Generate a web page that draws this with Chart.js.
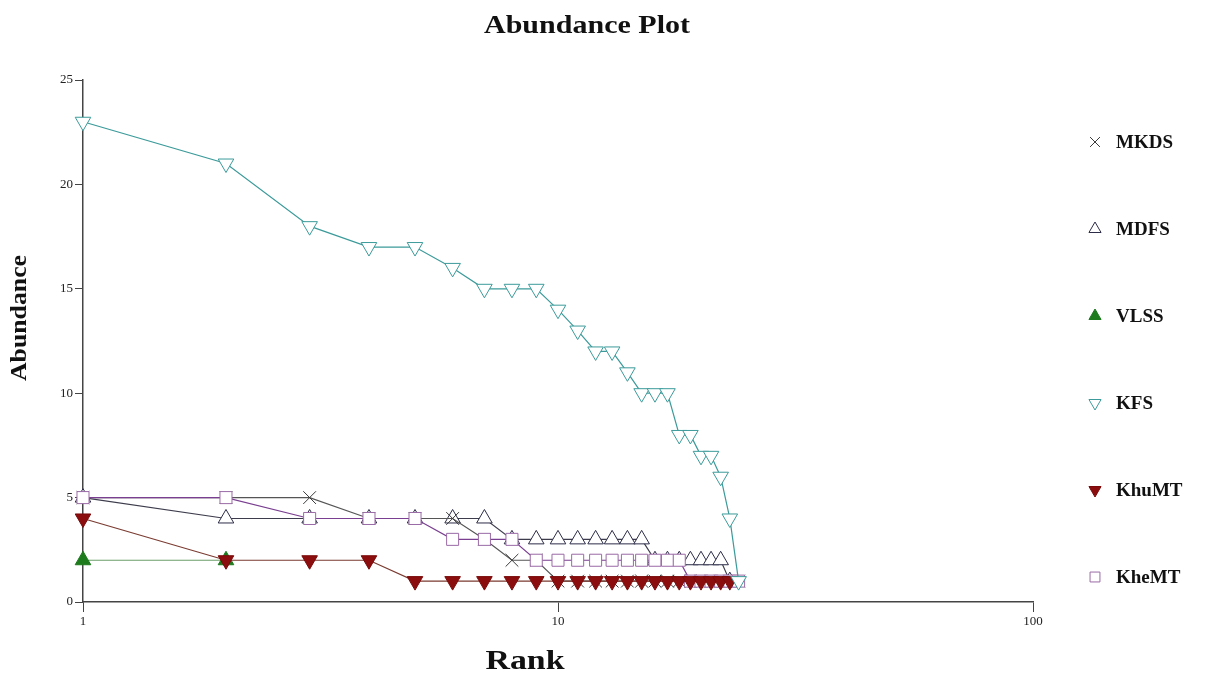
<!DOCTYPE html>
<html>
<head>
<meta charset="utf-8">
<script src="https://cdn.jsdelivr.net/npm/chart.js@4.4.1/dist/chart.umd.min.js"></script>
<style>
  html, body { margin: 0; padding: 0; background: #fff; }
  #wrap { width: 1216px; height: 679px; }
</style>
</head>
<body>
<div id="wrap"><canvas id="abundance" width="1216" height="679"></canvas></div>
<script>
// abundance by rank for each site
const mkds  = [5, 5, 5, 4, 4, 4, 3, 2, 2, 1, 1, 1, 1, 1, 1, 1, 1, 1, 1, 1, 1, 1, 1, 1];
const mdfs  = [5, 4, 4, 4, 4, 4, 4, 3, 3, 3, 3, 3, 3, 3, 3, 2, 2, 2, 2, 2, 2, 2, 1];
const vlss  = [2, 2];
const kfs   = [23, 21, 18, 17, 17, 16, 15, 15, 15, 14, 13, 12, 12, 11, 10, 10, 10, 8, 8, 7, 7, 6, 4, 1];
const khumt = [4, 2, 2, 2, 1, 1, 1, 1, 1, 1, 1, 1, 1, 1, 1, 1, 1, 1, 1, 1, 1, 1, 1];
const khemt = [5, 5, 4, 4, 4, 3, 3, 3, 2, 2, 2, 2, 2, 2, 2, 2, 2, 2, 1, 1, 1, 1, 1, 1];

const xTicks = [1, 10, 100];
const yTicks = [0, 5, 10, 15, 20, 25];

const toPoints = (vals) => vals.map((v, i) => ({ x: i + 1, y: v }));

const series = [
  { label: 'MKDS',  data: mkds,  line: '#555555', edge: '#3a3a3a', fill: 'rgba(0,0,0,0)', style: 'crossRot', rot: 0,   r: 9, order: 3 },
  { label: 'MDFS',  data: mdfs,  line: '#3c3c4c', edge: '#2c2c48', fill: '#ffffff',       style: 'triangle', rot: 0,   r: 9, order: 4 },
  { label: 'VLSS',  data: vlss,  line: '#6a9e6a', edge: '#1d7a1d', fill: '#1d7a1d',       style: 'triangle', rot: 0,   r: 9, order: 5 },
  { label: 'KFS',   data: kfs,   line: '#3c9a9a', edge: '#3c9a9a', fill: '#ffffff',       style: 'triangle', rot: 180, r: 9, order: 0 },
  { label: 'KhuMT', data: khumt, line: '#7a3a30', edge: '#7a0a0a', fill: '#8b0d0d',       style: 'triangle', rot: 180, r: 9, order: 1 },
  { label: 'KheMT', data: khemt, line: '#7a3f90', edge: '#9a6aa6', fill: '#ffffff',       style: 'rect',     rot: 0,   r: 8.5, order: 2 }
];

const serif = '"Liberation Serif", "DejaVu Serif", serif';

function stretchText(ctx, text, cx, cy, width, font) {
  ctx.save();
  ctx.font = font;
  const w = ctx.measureText(text).width;
  ctx.translate(cx, cy);
  ctx.scale(width / w, 1);
  ctx.textAlign = 'center';
  ctx.textBaseline = 'middle';
  ctx.fillText(text, 0, 0);
  ctx.restore();
}

const decorations = {
  id: 'decorations',
  afterDraw(chart) {
    const ctx = chart.ctx;
    ctx.save();
    ctx.fillStyle = '#111';
    stretchText(ctx, 'Abundance Plot', 587, 26, 206, 'bold 26px ' + serif);
    stretchText(ctx, 'Rank', 525, 662, 79, 'bold 28px ' + serif);
    ctx.save();
    ctx.translate(20, 318);
    ctx.rotate(-Math.PI / 2);
    stretchText(ctx, 'Abundance', 0, 0, 126, 'bold 24px ' + serif);
    ctx.restore();

    // legend
    series.forEach((s, i) => {
      const y = 142 + i * 87;
      ctx.save();
      ctx.strokeStyle = s.edge;
      ctx.fillStyle = s.fill;
      ctx.lineWidth = 1;
      Chart.helpers.drawPoint(ctx, { pointStyle: s.style, rotation: s.rot, radius: 7, borderWidth: 1 }, 1095, y);
      ctx.restore();
      ctx.fillStyle = '#111';
      ctx.font = 'bold 19px ' + serif;
      ctx.textAlign = 'left';
      ctx.textBaseline = 'middle';
      ctx.fillText(s.label, 1116, y + 1);
    });
    ctx.restore();
  }
};

const ctx = document.querySelector('#abundance');
new Chart(ctx, {
  type: 'line',
  data: {
    datasets: series.map(s => ({
      label: s.label,
      data: toPoints(s.data),
      order: s.order,
      clip: false,
      borderColor: s.line,
      borderWidth: 1.2,
      pointStyle: s.style,
      pointRotation: s.rot,
      pointRadius: s.r,
      pointBorderColor: s.edge,
      pointBackgroundColor: s.fill,
      pointBorderWidth: 1,
      tension: 0,
      fill: false
    }))
  },
  options: {
    responsive: false,
    animation: false,
    events: [],
    layout: { padding: { left: 0, right: 183, top: 80, bottom: 0 } },
    plugins: {
      legend: { display: false },
      tooltip: { enabled: false }
    },
    scales: {
      x: {
        type: 'logarithmic',
        min: 1,
        max: 100,
        afterBuildTicks: (scale) => { scale.ticks = xTicks.map(v => ({ value: v })); },
        afterFit: (scale) => { scale.height = 77; },
        ticks: {
          autoSkip: false,
          maxRotation: 0,
          color: '#222',
          font: { family: serif, size: 13 },
          padding: 2,
          callback: (v) => String(v)
        },
        grid: { drawOnChartArea: false, drawTicks: true, tickLength: 10, color: '#444' },
        border: { display: true, color: '#444', width: 1.5 }
      },
      y: {
        min: 0,
        max: 25,
        afterBuildTicks: (scale) => { scale.ticks = yTicks.map(v => ({ value: v })); },
        afterFit: (scale) => { scale.width = 83; },
        ticks: {
          color: '#222',
          font: { family: serif, size: 13 },
          padding: 2
        },
        grid: { drawOnChartArea: false, drawTicks: true, tickLength: 8, color: '#444' },
        border: { display: true, color: '#444', width: 1.5 }
      }
    }
  },
  plugins: [decorations]
});
</script>
</body>
</html>
